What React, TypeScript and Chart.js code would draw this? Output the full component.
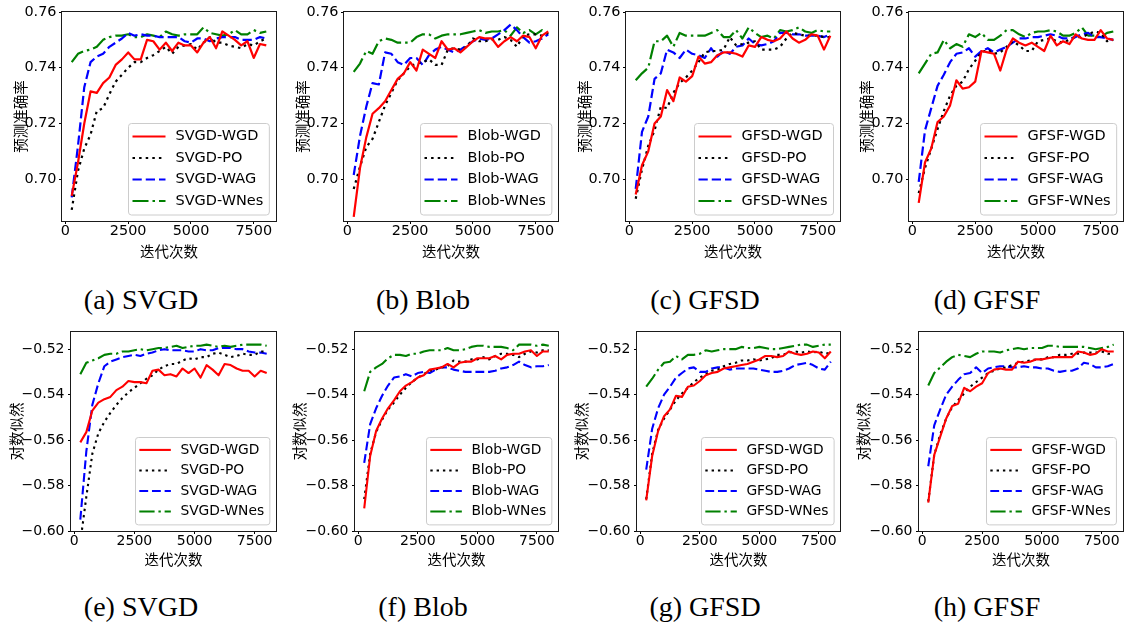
import React, { useEffect, useRef } from "react";
import { Chart, registerables } from "chart.js";

Chart.register(...registerables);

// ---------------- data ----------------
const ITERS = [
  250, 500, 750, 1000, 1250, 1500, 1750, 2000, 2250, 2500, 2750, 3000, 3250, 3500, 3750, 4000,
  4250, 4500, 4750, 5000, 5250, 5500, 5750, 6000, 6250, 6500, 6750, 7000, 7250, 7500, 7750, 8000,
];
const X_TICKS = [0, 2500, 5000, 7500];
const ACC_TICKS = [0.7, 0.72, 0.74, 0.76];
const LL_TICKS = [-0.6, -0.58, -0.56, -0.54, -0.52];
const METHODS = ["SVGD", "Blob", "GFSD", "GFSF"];
const SUFFIXES = ["WGD", "PO", "WAG", "WNes"];
const CAPTIONS_TOP = ["(a) SVGD", "(b) Blob", "(c) GFSD", "(d) GFSF"];
const CAPTIONS_BOTTOM = ["(e) SVGD", "(f) Blob", "(g) GFSD", "(h) GFSF"];
const ACC_YLABEL = "预测准确率";
const LL_YLABEL = "对数似然";
const XLABEL = "迭代次数";

// prediction accuracy
const ACC_SVGD_WGD = [0.694, 0.706, 0.72, 0.7315, 0.731, 0.7345, 0.7365, 0.741, 0.743, 0.7455, 0.743, 0.743, 0.75, 0.7495, 0.7465, 0.749, 0.746, 0.749, 0.748, 0.748, 0.7455, 0.749, 0.751, 0.747, 0.753, 0.7515, 0.75, 0.748, 0.7495, 0.7435, 0.7485, 0.748];
const ACC_SVGD_PO = [0.689, 0.703, 0.711, 0.716, 0.7245, 0.7255, 0.7305, 0.735, 0.7375, 0.74, 0.742, 0.742, 0.7435, 0.7445, 0.746, 0.7475, 0.745, 0.7475, 0.748, 0.7485, 0.7465, 0.749, 0.751, 0.749, 0.749, 0.748, 0.7475, 0.747, 0.7485, 0.748, 0.7495, 0.7505];
const ACC_SVGD_WAG = [0.6935, 0.712, 0.733, 0.742, 0.744, 0.745, 0.7475, 0.749, 0.7505, 0.7525, 0.7515, 0.752, 0.7515, 0.7515, 0.751, 0.751, 0.751, 0.751, 0.7495, 0.749, 0.7505, 0.7505, 0.7495, 0.7505, 0.751, 0.751, 0.751, 0.75, 0.75, 0.75, 0.751, 0.7505];
const ACC_SVGD_WNES = [0.742, 0.745, 0.746, 0.7465, 0.7475, 0.75, 0.751, 0.7515, 0.7515, 0.752, 0.751, 0.751, 0.752, 0.7515, 0.751, 0.753, 0.752, 0.7515, 0.752, 0.752, 0.752, 0.7545, 0.7525, 0.752, 0.7515, 0.752, 0.7535, 0.752, 0.752, 0.7535, 0.7525, 0.753];

const ACC_BLOB_WGD = [0.6865, 0.704, 0.715, 0.7235, 0.7255, 0.728, 0.732, 0.736, 0.738, 0.742, 0.739, 0.7465, 0.745, 0.7435, 0.7495, 0.7465, 0.747, 0.7455, 0.7475, 0.7495, 0.751, 0.7505, 0.7505, 0.7475, 0.7495, 0.751, 0.7495, 0.7515, 0.751, 0.747, 0.7515, 0.753];
const ACC_BLOB_PO = [0.6965, 0.7045, 0.7115, 0.7145, 0.7205, 0.7265, 0.731, 0.7355, 0.738, 0.7405, 0.7415, 0.742, 0.743, 0.741, 0.741, 0.7465, 0.747, 0.7465, 0.7475, 0.7505, 0.7495, 0.7495, 0.75, 0.75, 0.751, 0.75, 0.7475, 0.7515, 0.752, 0.752, 0.7515, 0.7525];
const ACC_BLOB_WAG = [0.7015, 0.7155, 0.726, 0.7345, 0.734, 0.7455, 0.745, 0.742, 0.741, 0.7435, 0.7435, 0.741, 0.7445, 0.7465, 0.7475, 0.7465, 0.7455, 0.7465, 0.748, 0.7495, 0.7505, 0.75, 0.7505, 0.752, 0.7535, 0.7555, 0.7535, 0.751, 0.749, 0.7495, 0.7505, 0.752];
const ACC_BLOB_WNES = [0.7385, 0.7415, 0.746, 0.745, 0.7495, 0.7505, 0.75, 0.749, 0.749, 0.749, 0.751, 0.752, 0.752, 0.7505, 0.7515, 0.752, 0.752, 0.752, 0.7525, 0.753, 0.7535, 0.7525, 0.753, 0.753, 0.7535, 0.7515, 0.7545, 0.7525, 0.7535, 0.752, 0.7535, 0.752];

const ACC_GFSD_WGD = [0.6945, 0.705, 0.71, 0.72, 0.7225, 0.732, 0.728, 0.7365, 0.735, 0.737, 0.744, 0.7415, 0.742, 0.7445, 0.7455, 0.7455, 0.745, 0.744, 0.748, 0.7475, 0.751, 0.75, 0.7495, 0.7505, 0.753, 0.7505, 0.749, 0.75, 0.752, 0.7515, 0.7465, 0.7515];
const ACC_GFSD_PO = [0.693, 0.7035, 0.712, 0.7175, 0.726, 0.7255, 0.731, 0.7345, 0.7365, 0.739, 0.742, 0.7455, 0.746, 0.746, 0.7465, 0.751, 0.748, 0.7485, 0.749, 0.7495, 0.7465, 0.7465, 0.7465, 0.7475, 0.7505, 0.7525, 0.752, 0.7515, 0.7515, 0.7515, 0.751, 0.751];
const ACC_GFSD_WAG = [0.6965, 0.717, 0.7225, 0.736, 0.738, 0.7465, 0.7455, 0.7435, 0.7465, 0.745, 0.7445, 0.7435, 0.747, 0.744, 0.746, 0.745, 0.7475, 0.748, 0.7505, 0.7485, 0.748, 0.7485, 0.7495, 0.7525, 0.7525, 0.752, 0.752, 0.7515, 0.7515, 0.7515, 0.751, 0.752];
const ACC_GFSD_WNES = [0.7355, 0.738, 0.74, 0.7495, 0.7495, 0.7515, 0.7475, 0.7525, 0.7515, 0.7515, 0.7515, 0.7515, 0.7525, 0.7535, 0.751, 0.751, 0.7535, 0.7505, 0.7545, 0.7525, 0.751, 0.7515, 0.7505, 0.7535, 0.753, 0.7535, 0.7545, 0.753, 0.7525, 0.7535, 0.753, 0.753];

const ACC_GFSF_WGD = [0.6915, 0.706, 0.711, 0.7205, 0.7225, 0.7265, 0.7355, 0.7325, 0.733, 0.735, 0.746, 0.7455, 0.745, 0.739, 0.7465, 0.7505, 0.749, 0.748, 0.749, 0.7475, 0.746, 0.7515, 0.748, 0.7495, 0.7485, 0.752, 0.7505, 0.75, 0.75, 0.7535, 0.7505, 0.75];
const ACC_GFSF_PO = [0.695, 0.704, 0.711, 0.718, 0.7245, 0.73, 0.7335, 0.735, 0.7395, 0.7425, 0.7455, 0.7465, 0.745, 0.7455, 0.7475, 0.7495, 0.748, 0.746, 0.746, 0.7495, 0.75, 0.7505, 0.7495, 0.749, 0.75, 0.751, 0.751, 0.752, 0.753, 0.7525, 0.7495, 0.75];
const ACC_GFSF_WAG = [0.699, 0.7175, 0.7255, 0.7335, 0.7375, 0.742, 0.745, 0.7455, 0.747, 0.744, 0.746, 0.747, 0.7455, 0.7465, 0.7475, 0.749, 0.7505, 0.7505, 0.751, 0.751, 0.7515, 0.752, 0.7515, 0.7505, 0.7505, 0.751, 0.752, 0.7525, 0.751, 0.751, 0.7505, 0.75];
const ACC_GFSF_WNES = [0.738, 0.7415, 0.745, 0.7455, 0.75, 0.747, 0.7485, 0.7475, 0.752, 0.751, 0.7525, 0.75, 0.75, 0.7515, 0.7535, 0.7535, 0.752, 0.751, 0.7525, 0.753, 0.753, 0.7535, 0.753, 0.7515, 0.7515, 0.7525, 0.7545, 0.7515, 0.7515, 0.751, 0.7525, 0.753];

// log likelihood
const LL_SVGD_WGD = [-0.561, -0.5565, -0.547, -0.5435, -0.542, -0.541, -0.538, -0.5365, -0.534, -0.5345, -0.5345, -0.535, -0.5295, -0.529, -0.5315, -0.531, -0.532, -0.5285, -0.5305, -0.5285, -0.5325, -0.527, -0.529, -0.5315, -0.5265, -0.527, -0.5285, -0.5295, -0.5295, -0.532, -0.5295, -0.5305];
const LL_SVGD_PO = [-0.605, -0.585, -0.566, -0.557, -0.552, -0.548, -0.5445, -0.5415, -0.539, -0.537, -0.535, -0.533, -0.5315, -0.529, -0.5275, -0.5265, -0.5265, -0.525, -0.524, -0.5245, -0.5235, -0.5235, -0.522, -0.5215, -0.5225, -0.5235, -0.523, -0.522, -0.5225, -0.5225, -0.521, -0.521];
const LL_SVGD_WAG = [-0.595, -0.565, -0.5445, -0.535, -0.5275, -0.5255, -0.5245, -0.5235, -0.523, -0.5225, -0.523, -0.522, -0.5215, -0.5205, -0.52, -0.5205, -0.5205, -0.5205, -0.521, -0.521, -0.52, -0.5205, -0.5205, -0.5195, -0.5195, -0.5195, -0.52, -0.52, -0.521, -0.5215, -0.5215, -0.522];
const LL_SVGD_WNES = [-0.531, -0.526, -0.525, -0.524, -0.5225, -0.522, -0.522, -0.521, -0.521, -0.5205, -0.52, -0.5205, -0.52, -0.5195, -0.5195, -0.519, -0.5185, -0.5195, -0.519, -0.5185, -0.5185, -0.518, -0.5185, -0.519, -0.5185, -0.519, -0.5185, -0.518, -0.518, -0.518, -0.518, -0.5185];

const LL_BLOB_WGD = [-0.59, -0.567, -0.556, -0.5505, -0.546, -0.5425, -0.5385, -0.536, -0.5345, -0.5325, -0.5315, -0.529, -0.5285, -0.528, -0.5265, -0.528, -0.526, -0.5255, -0.5255, -0.524, -0.524, -0.524, -0.523, -0.5245, -0.5225, -0.522, -0.522, -0.521, -0.5205, -0.523, -0.521, -0.521];
const LL_BLOB_PO = [-0.586, -0.566, -0.5565, -0.551, -0.5465, -0.5435, -0.54, -0.537, -0.5345, -0.5325, -0.531, -0.5295, -0.529, -0.528, -0.5275, -0.525, -0.5255, -0.5255, -0.5245, -0.5245, -0.5235, -0.5245, -0.523, -0.522, -0.522, -0.5225, -0.5235, -0.522, -0.521, -0.5215, -0.5205, -0.5205];
const LL_BLOB_WAG = [-0.57, -0.553, -0.546, -0.5405, -0.536, -0.5325, -0.532, -0.531, -0.532, -0.5305, -0.53, -0.5305, -0.529, -0.528, -0.528, -0.529, -0.5295, -0.53, -0.53, -0.53, -0.53, -0.53, -0.5295, -0.5285, -0.528, -0.527, -0.5255, -0.527, -0.528, -0.5275, -0.5275, -0.527];
const LL_BLOB_WNES = [-0.5385, -0.53, -0.528, -0.5265, -0.524, -0.5225, -0.5225, -0.523, -0.522, -0.522, -0.521, -0.5205, -0.5205, -0.5205, -0.5195, -0.5205, -0.5205, -0.52, -0.519, -0.5185, -0.5185, -0.519, -0.519, -0.519, -0.5195, -0.5205, -0.518, -0.518, -0.518, -0.5185, -0.518, -0.5185];

const LL_GFSD_WGD = [-0.5865, -0.567, -0.556, -0.5495, -0.5465, -0.5405, -0.541, -0.5365, -0.536, -0.534, -0.5315, -0.5305, -0.53, -0.5285, -0.528, -0.5275, -0.527, -0.5265, -0.5255, -0.5245, -0.523, -0.523, -0.5235, -0.523, -0.521, -0.522, -0.5225, -0.522, -0.521, -0.5215, -0.524, -0.521];
const LL_GFSD_PO = [-0.586, -0.566, -0.5555, -0.5505, -0.5465, -0.5425, -0.5395, -0.537, -0.5345, -0.5325, -0.531, -0.5295, -0.529, -0.5275, -0.5265, -0.526, -0.525, -0.525, -0.5245, -0.525, -0.5245, -0.524, -0.5225, -0.5225, -0.5215, -0.521, -0.5215, -0.521, -0.5215, -0.521, -0.522, -0.5215];
const LL_GFSD_WAG = [-0.573, -0.555, -0.546, -0.54, -0.5365, -0.5325, -0.5305, -0.5285, -0.528, -0.53, -0.53, -0.5285, -0.528, -0.528, -0.529, -0.5285, -0.5285, -0.5285, -0.5285, -0.529, -0.5295, -0.53, -0.53, -0.5295, -0.5285, -0.527, -0.5265, -0.526, -0.527, -0.5285, -0.529, -0.5255];
const LL_GFSD_WNES = [-0.5365, -0.533, -0.529, -0.526, -0.5255, -0.523, -0.5245, -0.5225, -0.5225, -0.522, -0.5205, -0.521, -0.5205, -0.52, -0.52, -0.52, -0.519, -0.5195, -0.5195, -0.519, -0.5195, -0.52, -0.52, -0.5195, -0.519, -0.5185, -0.518, -0.518, -0.519, -0.5185, -0.518, -0.518];

const LL_GFSF_WGD = [-0.5875, -0.5665, -0.5585, -0.5505, -0.545, -0.544, -0.537, -0.5385, -0.5365, -0.535, -0.5305, -0.529, -0.5285, -0.529, -0.529, -0.5255, -0.526, -0.5255, -0.5245, -0.5245, -0.524, -0.5235, -0.5235, -0.5235, -0.5235, -0.521, -0.5215, -0.5225, -0.522, -0.52, -0.521, -0.521];
const LL_GFSF_PO = [-0.587, -0.5665, -0.5575, -0.5505, -0.5455, -0.5425, -0.5395, -0.5365, -0.5345, -0.5325, -0.5305, -0.5295, -0.5285, -0.528, -0.527, -0.526, -0.5255, -0.525, -0.5245, -0.5245, -0.5235, -0.5235, -0.5225, -0.5225, -0.522, -0.522, -0.5215, -0.5215, -0.5215, -0.521, -0.522, -0.522];
const LL_GFSF_WAG = [-0.5715, -0.5535, -0.5465, -0.54, -0.5365, -0.5335, -0.531, -0.5305, -0.528, -0.5305, -0.5285, -0.528, -0.5275, -0.5275, -0.528, -0.528, -0.5275, -0.528, -0.528, -0.5285, -0.5285, -0.5295, -0.53, -0.5295, -0.5295, -0.5285, -0.526, -0.5265, -0.528, -0.528, -0.5275, -0.5265];
const LL_GFSF_WNES = [-0.536, -0.5305, -0.528, -0.5255, -0.5235, -0.5225, -0.523, -0.5235, -0.522, -0.521, -0.521, -0.521, -0.5215, -0.5205, -0.52, -0.5195, -0.52, -0.5195, -0.5195, -0.5195, -0.5185, -0.5185, -0.519, -0.519, -0.519, -0.519, -0.519, -0.5195, -0.52, -0.5195, -0.519, -0.518];

// ---------------- styles / layout ----------------
const STYLES = [
  { color: "#ff0000", dash: [] as number[] },
  { color: "#000000", dash: [2.5, 4.1] },
  { color: "#0000ff", dash: [9.25, 4] },
  { color: "#008000", dash: [16, 4, 2.5, 4] },
];
const LINE_W = 2.2;
const TICK_FONT = '"DejaVu Sans", sans-serif';
const CJK_FONT = '"Noto Sans CJK SC", "Noto Sans", sans-serif';

type PanelSpec = {
  method: string;
  series: number[][];
  metric: "acc" | "ll";
  caption: string;
  left: number;
  top: number;
  width: number;
  height: number;
  yw: number;
  xh: number;
  padTop: number;
  padRight: number;
  yTitlePad: number;
  xTitlePad: number;
  s: number;
};

const COL_LEFT = [0, 282, 564, 846];
const TOP_YW = [62, 62, 62, 63];
const TOP_PADR = [6, 6, 6, 5];
const BOT_YW = [71, 73, 73, 73];
const BOT_PADR = [6, 6, 6, 5];
const BOT_YTITLE = [7.4, 9, 9, 9];

const ACC_SERIES = [
  [ACC_SVGD_WGD, ACC_SVGD_PO, ACC_SVGD_WAG, ACC_SVGD_WNES],
  [ACC_BLOB_WGD, ACC_BLOB_PO, ACC_BLOB_WAG, ACC_BLOB_WNES],
  [ACC_GFSD_WGD, ACC_GFSD_PO, ACC_GFSD_WAG, ACC_GFSD_WNES],
  [ACC_GFSF_WGD, ACC_GFSF_PO, ACC_GFSF_WAG, ACC_GFSF_WNES],
];
const LL_SERIES = [
  [LL_SVGD_WGD, LL_SVGD_PO, LL_SVGD_WAG, LL_SVGD_WNES],
  [LL_BLOB_WGD, LL_BLOB_PO, LL_BLOB_WAG, LL_BLOB_WNES],
  [LL_GFSD_WGD, LL_GFSD_PO, LL_GFSD_WAG, LL_GFSD_WNES],
  [LL_GFSF_WGD, LL_GFSF_PO, LL_GFSF_WAG, LL_GFSF_WNES],
];

const PANELS: PanelSpec[] = [
  ...METHODS.map((m, i) => ({
    method: m, series: ACC_SERIES[i], metric: "acc" as const, caption: CAPTIONS_TOP[i],
    left: COL_LEFT[i], top: 0, width: 282, height: 270, yw: TOP_YW[i], xh: 49,
    padTop: 12, padRight: TOP_PADR[i], yTitlePad: 11.6, xTitlePad: 10, s: 1,
  })),
  ...METHODS.map((m, i) => ({
    method: m, series: LL_SERIES[i], metric: "ll" as const, caption: CAPTIONS_BOTTOM[i],
    left: COL_LEFT[i], top: 320, width: 282, height: 260, yw: BOT_YW[i], xh: 49,
    padTop: 11, padRight: BOT_PADR[i], yTitlePad: BOT_YTITLE[i], xTitlePad: 11.6, s: 0.955,
  })),
];

function roundRectPath(ctx: CanvasRenderingContext2D, x: number, y: number, w: number, h: number, r: number) {
  ctx.beginPath();
  ctx.moveTo(x + r, y);
  ctx.lineTo(x + w - r, y);
  ctx.arcTo(x + w, y, x + w, y + r, r);
  ctx.lineTo(x + w, y + h - r);
  ctx.arcTo(x + w, y + h, x + w - r, y + h, r);
  ctx.lineTo(x + r, y + h);
  ctx.arcTo(x, y + h, x, y + h - r, r);
  ctx.lineTo(x, y + r);
  ctx.arcTo(x, y, x + r, y, r);
  ctx.closePath();
}

const framePlugin = {
  id: "mplFrame",
  afterDatasetsDraw(chart: any) {
    const { ctx, chartArea: a } = chart;
    ctx.save();
    ctx.strokeStyle = "#1a1a1a";
    ctx.lineWidth = 1;
    ctx.setLineDash([]);
    ctx.strokeRect(Math.round(a.left) - 0.5, Math.round(a.top) - 0.5, Math.round(a.right - a.left) + 1, Math.round(a.bottom - a.top) + 1);
    ctx.restore();
  },
};

function makeLegendPlugin(s: number) {
  return {
    id: "mplLegend",
    afterDraw(chart: any) {
      const { ctx, chartArea: a } = chart;
      const labels: string[] = chart.data.datasets.map((d: any) => d.label);
      const fs = 14.5 * s;
      ctx.save();
      ctx.font = `${fs}px ${TICK_FONT}`;
      const tw = Math.max(...labels.map((l) => ctx.measureText(l).width));
      const padL = 4 * s, handle = 33 * s, gap = 10 * s, padR = 6 * s;
      const w = padL + handle + gap + tw + padR;
      const first = 13 * s, step = 21.5 * s, last = 14 * s;
      const h = first + step * (labels.length - 1) + last;
      const x = Math.round(a.right - 7 * s - w) + 0.5;
      const y = Math.round(a.bottom - 7 * s - h) + 0.5;
      roundRectPath(ctx, x, y, w, h, 3 * s);
      ctx.fillStyle = "rgba(255,255,255,0.8)";
      ctx.fill();
      ctx.strokeStyle = "#cccccc";
      ctx.lineWidth = 1;
      ctx.stroke();
      labels.forEach((lab, i) => {
        const cy = y + first + step * i;
        ctx.beginPath();
        ctx.setLineDash(STYLES[i].dash.map((d) => d * s));
        ctx.strokeStyle = STYLES[i].color;
        ctx.lineWidth = LINE_W * s;
        ctx.lineCap = "butt";
        ctx.moveTo(x + padL, cy);
        ctx.lineTo(x + padL + handle, cy);
        ctx.stroke();
        ctx.setLineDash([]);
        ctx.fillStyle = "#000";
        ctx.textBaseline = "middle";
        ctx.textAlign = "left";
        ctx.fillText(lab, x + padL + handle + gap, cy);
      });
      ctx.restore();
    },
  };
}

function Panel({ p }: { p: PanelSpec }) {
  const ref = useRef<HTMLCanvasElement>(null);
  useEffect(() => {
    const isAcc = p.metric === "acc";
    const yTicks = isAcc ? ACC_TICKS : LL_TICKS;
    const tickFs = 14 * (p.s === 1 ? 1.03 : 1);
    const chart = new Chart(ref.current as HTMLCanvasElement, {
      type: "line",
      data: {
        datasets: p.series.map((vals, i) => ({
          label: `${p.method}-${SUFFIXES[i]}`,
          data: ITERS.map((x, j) => ({ x, y: vals[j] })),
          borderColor: STYLES[i].color,
          backgroundColor: STYLES[i].color,
          borderWidth: LINE_W * p.s,
          borderDash: STYLES[i].dash.map((d) => d * p.s),
          borderCapStyle: "butt",
          borderJoinStyle: "round",
          pointRadius: 0,
          tension: 0,
          fill: false,
        })),
      },
      options: {
        responsive: false,
        animation: false,
        events: [],
        layout: { padding: { top: p.padTop, right: p.padRight, left: 0, bottom: 0 } },
        plugins: { legend: { display: false }, tooltip: { enabled: false } },
        scales: {
          x: {
            type: "linear",
            min: -137,
            max: 8387,
            afterBuildTicks: (sc: any) => {
              sc.ticks = X_TICKS.map((v) => ({ value: v }));
            },
            afterFit: (sc: any) => {
              sc.height = p.xh;
            },
            ticks: {
              maxRotation: 0,
              autoSkip: false,
              padding: -1,
              color: "#000",
              font: { family: TICK_FONT, size: tickFs },
              callback: (v: any) => String(v),
            },
            grid: { drawOnChartArea: false, drawTicks: true, tickLength: 3, color: "#000" },
            border: { display: false },
            title: {
              display: true,
              text: XLABEL,
              color: "#000",
              font: { family: CJK_FONT, size: 14.5 },
              padding: { top: 0, bottom: p.xTitlePad },
            },
          },
          y: {
            type: "linear",
            min: isAcc ? 0.685 : -0.6,
            max: isAcc ? 0.76 : -0.5124,
            afterBuildTicks: (sc: any) => {
              sc.ticks = yTicks.map((v) => ({ value: v }));
            },
            afterFit: (sc: any) => {
              sc.width = p.yw;
            },
            ticks: {
              autoSkip: false,
              padding: isAcc ? 2.5 : 3.5,
              color: "#000",
              font: { family: TICK_FONT, size: tickFs },
              callback: (v: any) => {
                const n = Number(v);
                return n < 0 ? "\u2212" + Math.abs(n).toFixed(2) : n.toFixed(2);
              },
            },
            grid: { drawOnChartArea: false, drawTicks: true, tickLength: 3, color: "#000" },
            border: { display: false },
            title: {
              display: true,
              text: isAcc ? ACC_YLABEL : LL_YLABEL,
              color: "#000",
              font: { family: CJK_FONT, size: 14.5 },
              padding: { top: p.yTitlePad, bottom: 0 },
            },
          },
        },
      } as any,
      plugins: [framePlugin, makeLegendPlugin(p.s)],
    });
    return () => chart.destroy();
  }, [p]);
  return (
    <canvas
      ref={ref}
      width={p.width}
      height={p.height}
      style={{ position: "absolute", left: p.left, top: p.top, width: p.width, height: p.height }}
    />
  );
}

export default function App() {
  return (
    <div style={{ position: "absolute", left: 0, top: 0, width: 1128, height: 628, background: "#fff", overflow: "hidden" }}>
      {PANELS.map((p, i) => (
        <Panel key={i} p={p} />
      ))}
      {PANELS.map((p, i) => (
        <div
          key={"c" + i}
          style={{
            position: "absolute",
            left: p.left,
            top: p.top === 0 ? 286 : 593,
            width: 282,
            textAlign: "center",
            fontFamily: '"Liberation Serif", "Times New Roman", serif',
            fontSize: 28,
            lineHeight: "28px",
            color: "#000",
            whiteSpace: "nowrap",
          }}
        >
          {p.caption}
        </div>
      ))}
    </div>
  );
}
